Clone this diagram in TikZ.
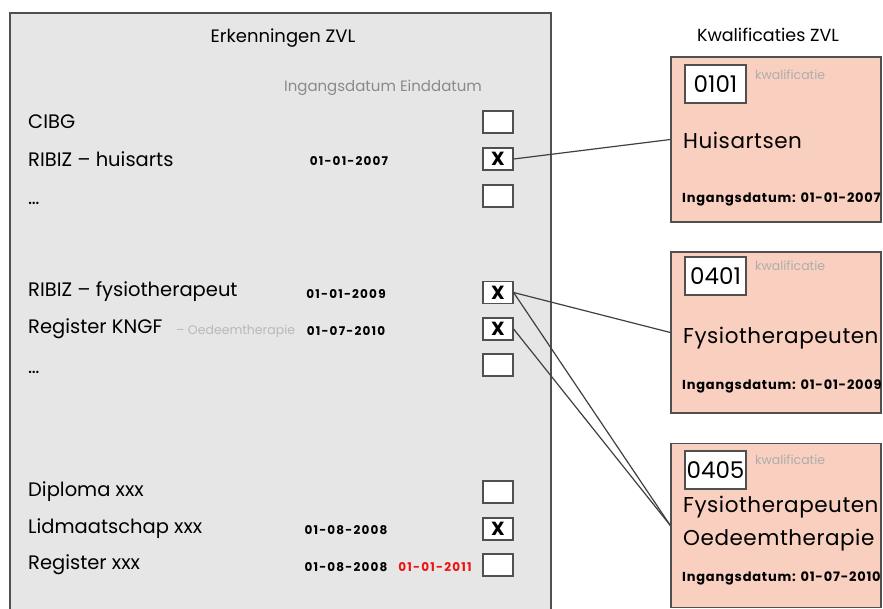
\documentclass[tikz,border=0pt]{standalone}
\usepackage{fontspec}
\setmainfont{Poppins}
\definecolor{paneel}{HTML}{E6E6E6}
\definecolor{rand}{HTML}{505050}
\definecolor{roze}{HTML}{F9CFBF}
\definecolor{grijstekst}{HTML}{8A8A8A}
\definecolor{rood}{HTML}{F01010}
\begin{document}
\begin{tikzpicture}[x=1pt,y=-1pt,
  vakje/.style={draw=rand,fill=white,line width=1.2pt,minimum width=30pt,minimum height=22pt,inner sep=0pt},
  rij/.style={anchor=west,inner sep=0pt,font=\fontsize{19.5}{20}\selectfont},
  datum/.style={inner sep=0pt,font=\fontsize{12}{12}\selectfont\bfseries\addfontfeatures{LetterSpace=10}},
  kwal/.style={draw=rand,fill=roze,line width=1.3pt,minimum width=210pt,inner sep=0pt},
  code/.style={draw=rand,fill=white,line width=1.2pt,minimum width=61pt,minimum height=38pt,inner sep=0pt,font=\fontsize{23}{24}\selectfont},
  klein/.style={anchor=west,inner sep=0pt,text=grijstekst!70,font=\fontsize{12.5}{13}\selectfont},
  naam/.style={anchor=west,inner sep=0pt,font=\fontsize{21.5}{33}\selectfont\addfontfeatures{LetterSpace=2.5},align=left},
  ingang/.style={anchor=west,inner sep=0pt,font=\fontsize{13}{14}\selectfont\bfseries\addfontfeatures{LetterSpace=6}}]
\useasboundingbox (0,0) rectangle (883,608);

% erkenningen
\draw [rand,fill=paneel,line width=1.5pt] (10,13) rectangle (551,630);
\node [font=\fontsize{18}{18}\selectfont] (titel) at (283,38) {Erkenningen ZVL};
\node [text=grijstekst,font=\fontsize{15}{15}\selectfont] (kop) at (383,88) {Ingangsdatum Einddatum};

\node [rij] (r1) at (28,122) {CIBG};
\node [rij] (r2) at (28,159) {RIBIZ -- huisarts};
\node [rij] (r3) at (28,203) {\dots};
\node [rij] (r4) at (28,292) {RIBIZ -- fysiotherapeut};
\node [rij] (r5) at (28,329) {Register KNGF};
\node [klein,text=grijstekst!60] (r5b) at (176,331) {-- Oedeemtherapie};
\node [rij] (r6) at (28,372) {\dots};
\node [rij] (r7) at (28,492) {Diploma xxx};
\node [rij] (r8) at (28,529) {Lidmaatschap xxx};
\node [rij] (r9) at (28,565) {Register xxx};

\foreach \n/\y in {1/122,2/159,3/196,4/292.5,5/329,6/365,7/492,8/529,9/565}
  \node [vakje] (v\n) at (498,\y) {};
\foreach \n in {2,4,5,8}
  \node at (v\n) {\fontsize{19}{19}\selectfont\bfseries X};

\node [datum] (d2) at (349,161) {01-01-2007};
\node [datum] (d4) at (346,294) {01-01-2009};
\node [datum] (d5) at (346,331) {01-07-2010};
\node [datum] (d8) at (346,530) {01-08-2008};
\node [datum] (d9) at (346,567) {01-08-2008};
\node [datum,text=rood] (e9) at (435,567) {01-01-2011};

% kwalificaties
\node [font=\fontsize{17.5}{18}\selectfont] (titel2) at (768,35) {Kwalificaties ZVL};

\node [kwal,minimum height=165pt] (k1) at (776,139.5) {};
\node [code] (c1) at (715.5,84) {0101};
\node [klein] at (755,75) {kwalificatie};
\node [naam] (n1) at (683,140) {Huisartsen};
\node [ingang] (i1) at (682,199) {Ingangsdatum: 01-01-2007};

\node [kwal,minimum height=161pt] (k2) at (776,332.5) {};
\node [code] (c2) at (715.5,276) {0401};
\node [klein] at (755,266) {kwalificatie};
\node [naam] (n2) at (683,338) {Fysiotherapeuten};
\node [ingang] (i2) at (682,386) {Ingangsdatum: 01-01-2009};

\node [kwal,minimum height=164pt] (k3) at (776,525.5) {};
\node [code] (c3) at (715.5,470) {0405};
\node [klein] at (755,460) {kwalificatie};
\node [naam] (n3) at (683,524) {Fysiotherapeuten\\Oedeemtherapie};
\node [ingang] (i3) at (682,578) {Ingangsdatum: 01-07-2010};

\draw [rand!80!black,line width=1.2pt] (v2.east) -- (k1.west);
\draw [rand!80!black,line width=1.2pt] (v4.east) -- (k2.west);
\draw [rand!80!black,line width=1.2pt] (v4.east) -- (k3.west);
\draw [rand!80!black,line width=1.2pt] (v5.east) -- (k3.west);
\end{tikzpicture}
\end{document}
